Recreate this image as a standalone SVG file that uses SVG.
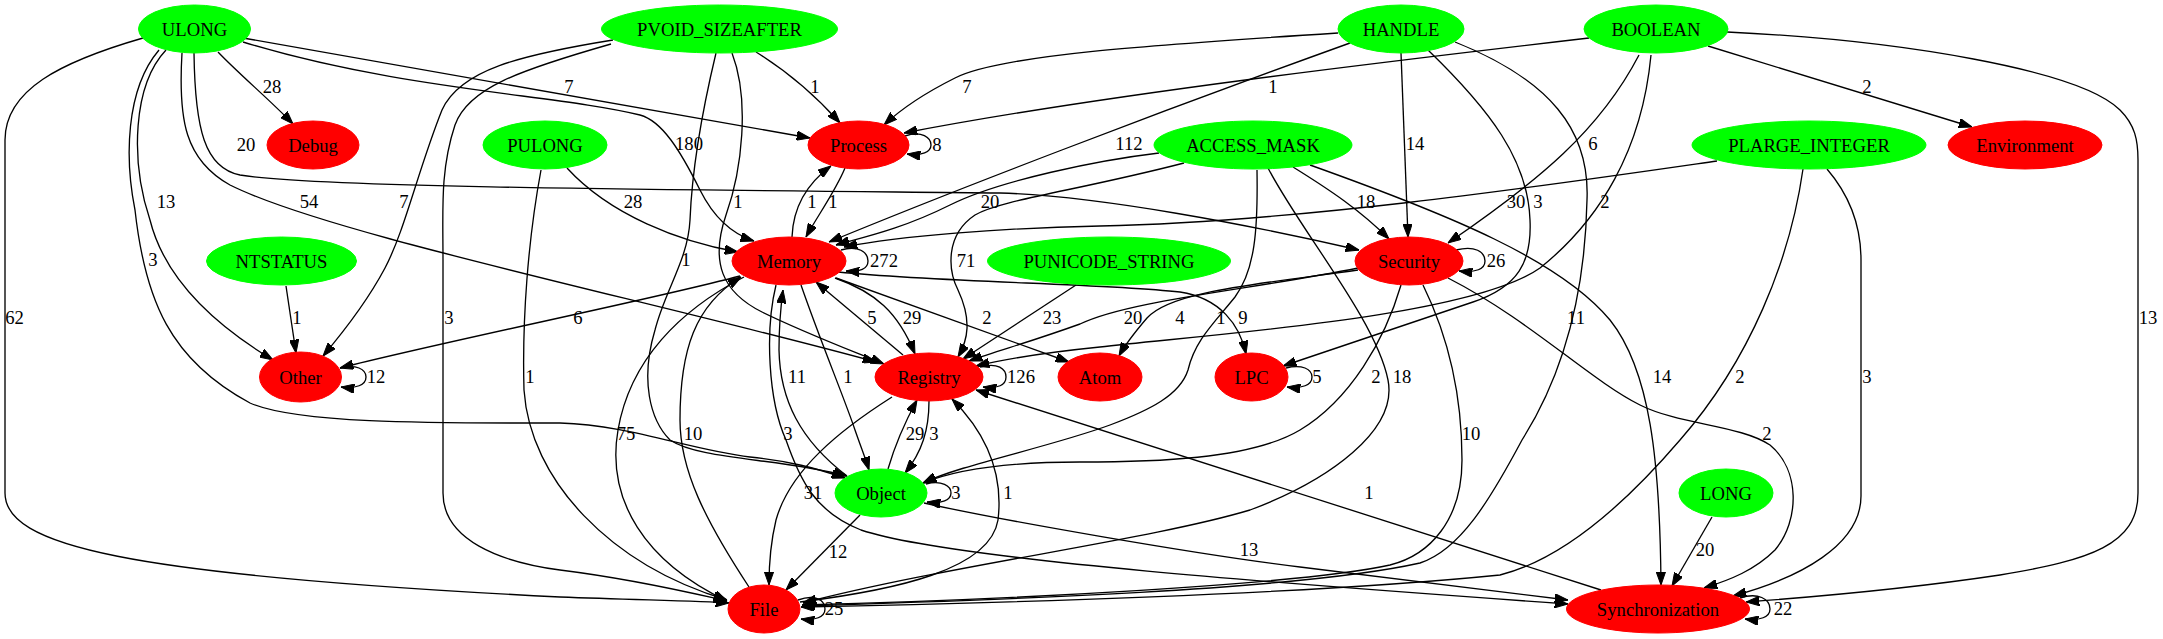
<svg xmlns="http://www.w3.org/2000/svg" width="2163" height="639" viewBox="0 0 2163 639">
<style>
.n text{font-family:"Liberation Serif","Times New Roman",serif;font-size:18.67px;text-anchor:middle;fill:#000}
.g{fill:#00ff00;stroke:#00ff00}
.r{fill:#ff0000;stroke:#ff0000}
.e path{fill:none;stroke:#000;stroke-width:1.33;marker-end:url(#a)}
.e text{font-family:"Liberation Serif","Times New Roman",serif;font-size:18.67px;text-anchor:middle;fill:#000}
</style>
<defs>
<marker id="a" viewBox="0 0 13.3 9.4" refX="13.3" refY="4.7" markerWidth="13.3" markerHeight="9.4" markerUnits="userSpaceOnUse" orient="auto">
<path d="M0,0 L13.3,4.7 L0,9.4 z" fill="#000" stroke="#000" stroke-width="1"/>
</marker>
</defs>
<rect width="2163" height="639" fill="#fff"/>
<g class="e" id="edges" font-family="Liberation Serif, Times New Roman, serif" font-size="18.67">
<path d="M218,52 C240,75 270,100 293,124"/><text x="272" y="93">28</text>
<path d="M243,38 C450,75 650,110 810,138"/><text x="569" y="93">7</text>
<path d="M243,42 C400,90 560,95 640,115 C662,121 680,150 700,190 C715,220 735,235 754,241"/><text x="689" y="150">180</text>
<path d="M194,53 C195,130 205,168 240,175 C320,188 700,190 1000,193 C1100,196 1250,225 1359,250"/><text x="246" y="151">20</text>
<path d="M166,50 C133,85 130,160 150,220 C165,280 215,325 273,360"/><text x="166" y="208">13</text>
<path d="M159,50 C125,90 125,160 135,210 C145,300 170,360 250,403 C300,425 450,423 560,423 C630,425 690,450 750,457 C790,461 815,468 845,478"/><text x="153" y="266">3</text>
<path d="M182,53 C178,120 185,160 230,185 C330,235 650,300 876,362"/><text x="309" y="208">54</text>
<path d="M143,38 C60,62 5,90 5,140 L5,493 C5,545 120,575 560,597 C640,600 700,601 729,603"/><text x="14.5" y="324">62</text>
<path d="M756,52 C785,70 815,95 840,123"/><text x="815" y="93">1</text>
<path d="M613,40 C520,55 460,70 442,110 C418,170 405,230 385,268 C368,300 345,330 323,356"/><text x="404" y="208">7</text>
<path d="M611,44 C520,70 468,88 455,125 C440,170 443,210 443,260 L443,493 C443,540 500,562 560,570 C640,580 700,595 727,601"/><text x="449" y="324">3</text>
<path d="M732,53 C750,100 742,170 726,215 C710,262 722,292 762,312 C805,333 850,350 884,364"/><text x="738" y="208">1</text>
<path d="M716,53 C700,120 692,170 690,220 C688,260 665,290 655,330 C640,380 650,420 670,440 C700,460 780,458 847,476"/><text x="686" y="266">1</text>
<path d="M567,168 C610,215 680,242 738,252"/><text x="633" y="208">28</text>
<path d="M541,170 C528,240 522,320 524,390 C530,480 610,565 727,600"/><text x="530" y="383">1</text>
<path d="M286,286 L296,353"/><text x="297" y="324">1</text>
<path d="M740,276 C650,300 450,340 340,368"/><text x="578" y="324">6</text>
<path d="M841,250 C858,245 868,252 868,261 C868,269 860,272 846,271"/><text x="884" y="267">272</text>
<path d="M792,237 C793,210 805,185 831,166"/><text x="812" y="208">1</text>
<path d="M845,168 C835,192 818,215 806,237"/><text x="833" y="208">1</text>
<path d="M905,136 C922,130 931,138 931,145 C931,152 922,156 907,154"/><text x="937" y="151">8</text>
<path d="M1338,33 C1150,45 1000,55 955,78 C925,93 900,110 884,125"/><text x="967" y="93">7</text>
<path d="M1589,38 C1400,60 1100,95 904,133"/><text x="1273" y="93">1</text>
<path d="M1708,46 L1972,127"/><text x="1867" y="93">2</text>
<path d="M1350,43 C1150,115 950,192 829,242"/><text x="1129" y="150">112</text>
<path d="M1159,153 C1100,160 1000,180 950,205 C900,230 860,238 836,245"/><text x="990" y="208">20</text>
<path d="M1184,163 C1080,190 1000,200 975,215 C945,235 948,270 958,290 C972,320 968,340 958,357"/><text x="966" y="267">71</text>
<path d="M1293,167 C1330,190 1360,210 1389,239"/><text x="1366" y="208">18</text>
<path d="M1257,170 C1258,230 1255,270 1235,297 C1215,322 1195,340 1188,370 C1180,395 1150,410 1110,425 C1050,447 960,465 923,483"/><text x="1221" y="324">1</text>
<path d="M1268,168 C1300,230 1376,320 1388,380 C1398,430 1330,480 1250,510 C1150,540 950,565 803,603"/><text x="1402" y="383">18</text>
<path d="M1310,165 C1450,215 1560,260 1610,320 C1650,370 1660,460 1661,585"/><text x="1662" y="383">14</text>
<path d="M1401,53 C1403,120 1406,180 1408,237"/><text x="1415" y="150">14</text>
<path d="M1428,50 C1490,110 1528,160 1530,220 C1532,262 1518,287 1473,302 L1283,366"/><text x="1538" y="208">3</text>
<path d="M1455,42 C1550,80 1590,130 1587,200 C1585,300 1560,380 1522,440 C1490,500 1460,550 1420,563 C1300,590 1000,600 802,606"/><text x="1576" y="324">11</text>
<path d="M1639,55 C1600,130 1540,180 1448,243"/><text x="1593" y="150">6</text>
<path d="M1651,55 C1642,150 1600,220 1540,268 C1470,318 1200,335 1100,347 C1050,352 1010,358 976,366"/><text x="1605" y="208">2</text>
<path d="M1727,32 C1900,40 2080,70 2120,110 C2135,125 2138,140 2138,160 L2138,493 C2138,545 2090,560 2000,575 C1900,590 1800,598 1746,602"/><text x="2148" y="324">13</text>
<path d="M1717,161 C1550,185 1300,222 1100,226 C1000,228 900,236 844,247"/><text x="1516" y="208">30</text>
<path d="M1803,169 C1790,260 1750,360 1680,440 C1620,510 1560,560 1500,575 C1300,595 1000,603 801,607"/><text x="1740" y="383">2</text>
<path d="M1827,169 C1845,190 1861,220 1861,260 L1861,496 C1861,545 1800,578 1733,596"/><text x="1867" y="383">3</text>
<path d="M1358,268 C1250,290 1130,300 1080,324 C1030,342 1000,350 969,361"/><text x="1133" y="324">20</text>
<path d="M1358,270 C1250,285 1170,292 1147,318 C1135,332 1125,345 1119,356"/><text x="1180" y="324">4</text>
<path d="M836,278 L1069,362"/><text x="987" y="324">2</text>
<path d="M838,272 C950,283 1100,283 1180,292 C1220,298 1240,325 1246,354"/><text x="1243" y="324">9</text>
<path d="M1456,250 C1475,245 1485,252 1485,261 C1485,269 1476,273 1459,271"/><text x="1496" y="267">26</text>
<path d="M1401,285 C1385,340 1350,400 1300,430 C1250,460 1150,462 1080,462 C1000,462 950,472 923,483"/><text x="1376" y="383">2</text>
<path d="M1423,285 C1450,340 1462,400 1462,460 C1462,520 1430,555 1390,565 C1300,585 1000,600 802,605"/><text x="1471" y="440">10</text>
<path d="M1448,278 C1530,320 1590,380 1640,405 C1680,425 1740,425 1770,445 C1800,470 1800,520 1775,550 C1755,570 1730,580 1704,588"/><text x="1767" y="440">2</text>
<path d="M776,285 C765,330 768,400 786,440 C800,480 815,512 861,530 C950,560 1300,585 1568,604"/><text x="788" y="440">3</text>
<path d="M924,503 C1000,520 1200,555 1300,567 C1400,580 1500,592 1568,600"/><text x="1249" y="556">13</text>
<path d="M847,476 C800,440 780,400 779,350 C779,320 781,305 783,290"/><text x="797" y="383">11</text>
<path d="M801,285 C820,340 845,400 855,430 C862,450 866,460 869,470"/><text x="848" y="383">1</text>
<path d="M744,277 C680,310 630,360 618,430 C606,500 645,562 727,601"/><text x="626" y="440">75</text>
<path d="M749,587 C705,520 680,470 680,420 C680,350 695,305 741,277"/><text x="693" y="440">10</text>
<path d="M903,355 L816,282"/><text x="872" y="324">5</text>
<path d="M835,278 C875,292 898,312 915,354"/><text x="912" y="324">29</text>
<path d="M980,367 C998,362 1006,369 1006,377 C1006,385 998,389 983,387"/><text x="1021" y="383">126</text>
<path d="M1076,285 L963,359"/><text x="1052" y="324">23</text>
<path d="M888,469 C895,445 905,422 917,400"/><text x="915" y="440">29</text>
<path d="M929,401 C929,430 922,452 905,473"/><text x="934" y="440">3</text>
<path d="M892,397 C840,430 790,470 776,520 C770,545 769,565 769,585"/><text x="813" y="499">31</text>
<path d="M860,515 L786,590"/><text x="838" y="558">12</text>
<path d="M798,600 C815,594 825,600 825,609 C825,617 815,621 801,619"/><text x="834" y="615">25</text>
<path d="M926,484 C942,480 951,486 951,493 C951,500 942,504 927,502"/><text x="956" y="499">3</text>
<path d="M800,602 C895,590 990,570 998,520 C1004,470 983,430 952,399"/><text x="1008" y="499">1</text>
<path d="M1601,590 L976,390"/><text x="1369" y="499">1</text>
<path d="M1740,598 C1758,592 1770,599 1770,609 C1770,617 1760,621 1745,619"/><text x="1783" y="615">22</text>
<path d="M1712,517 L1672,586"/><text x="1705" y="556">20</text>
<path d="M1286,368 C1302,364 1312,369 1312,377 C1312,385 1302,389 1287,387"/><text x="1317" y="383">5</text>
<path d="M340,368 C356,364 366,369 366,377 C366,385 356,389 341,387"/><text x="376" y="383">12</text>
</g>
<g class="n" id="ULONG"><ellipse class="g" cx="194.5" cy="29" rx="56" ry="24"/><text x="194.5" y="35.5">ULONG</text></g>
<g class="n" id="PVOID_SIZEAFTER"><ellipse class="g" cx="719.5" cy="29" rx="118" ry="24"/><text x="719.5" y="35.5">PVOID_SIZEAFTER</text></g>
<g class="n" id="HANDLE"><ellipse class="g" cx="1401" cy="29" rx="63" ry="24"/><text x="1401" y="35.5">HANDLE</text></g>
<g class="n" id="BOOLEAN"><ellipse class="g" cx="1656" cy="29" rx="72" ry="24"/><text x="1656" y="35.5">BOOLEAN</text></g>
<g class="n" id="Debug"><ellipse class="r" cx="313" cy="145" rx="46" ry="24"/><text x="313" y="151.5">Debug</text></g>
<g class="n" id="PULONG"><ellipse class="g" cx="545" cy="145" rx="62" ry="24"/><text x="545" y="151.5">PULONG</text></g>
<g class="n" id="Process"><ellipse class="r" cx="858.5" cy="145" rx="50.5" ry="24"/><text x="858.5" y="151.5">Process</text></g>
<g class="n" id="ACCESS_MASK"><ellipse class="g" cx="1253" cy="145" rx="99" ry="24"/><text x="1253" y="151.5">ACCESS_MASK</text></g>
<g class="n" id="PLARGE_INTEGER"><ellipse class="g" cx="1809" cy="145" rx="117" ry="24"/><text x="1809" y="151.5">PLARGE_INTEGER</text></g>
<g class="n" id="Environment"><ellipse class="r" cx="2025" cy="145" rx="77" ry="24"/><text x="2025" y="151.5">Environment</text></g>
<g class="n" id="NTSTATUS"><ellipse class="g" cx="281.5" cy="261" rx="75" ry="24"/><text x="281.5" y="267.5">NTSTATUS</text></g>
<g class="n" id="Memory"><ellipse class="r" cx="789" cy="261" rx="57" ry="24"/><text x="789" y="267.5">Memory</text></g>
<g class="n" id="PUNICODE_STRING"><ellipse class="g" cx="1109" cy="261" rx="121.5" ry="24"/><text x="1109" y="267.5">PUNICODE_STRING</text></g>
<g class="n" id="Security"><ellipse class="r" cx="1409" cy="261" rx="54" ry="24"/><text x="1409" y="267.5">Security</text></g>
<g class="n" id="Other"><ellipse class="r" cx="300.5" cy="377" rx="41" ry="25"/><text x="300.5" y="383.5">Other</text></g>
<g class="n" id="Registry"><ellipse class="r" cx="929" cy="377" rx="54" ry="24"/><text x="929" y="383.5">Registry</text></g>
<g class="n" id="Atom"><ellipse class="r" cx="1100" cy="377" rx="42" ry="24"/><text x="1100" y="383.5">Atom</text></g>
<g class="n" id="LPC"><ellipse class="r" cx="1251.5" cy="377" rx="36.5" ry="24"/><text x="1251.5" y="383.5">LPC</text></g>
<g class="n" id="Object"><ellipse class="g" cx="881" cy="493" rx="46" ry="24"/><text x="881" y="499.5">Object</text></g>
<g class="n" id="LONG"><ellipse class="g" cx="1726" cy="493" rx="47" ry="24"/><text x="1726" y="499.5">LONG</text></g>
<g class="n" id="File"><ellipse class="r" cx="764" cy="609" rx="36" ry="24"/><text x="764" y="615.5">File</text></g>
<g class="n" id="Synchronization"><ellipse class="r" cx="1658" cy="609" rx="91.5" ry="24"/><text x="1658" y="615.5">Synchronization</text></g>
</svg>
